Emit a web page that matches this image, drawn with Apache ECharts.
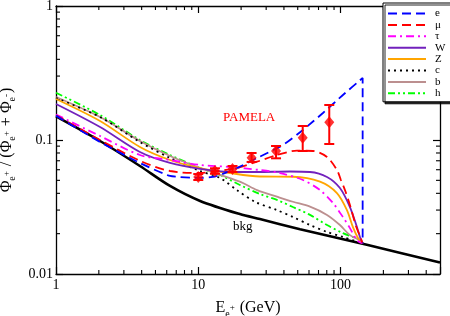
<!DOCTYPE html>
<html>
<head>
<meta charset="utf-8">
<script src="https://cdn.jsdelivr.net/npm/echarts@6/dist/echarts.min.js"></script>
<style>html,body{margin:0;padding:0;background:#fff;}#c{width:450px;height:316px;}</style>
</head>
<body>
<div id="c"></div>
<script>
// ---- data ----
const energyBkg = [1, 2.04, 3.89, 6.33, 10.3, 19.6, 27.1, 51.9, 153, 500];
const fracBkg   = [0.150, 0.0983, 0.064, 0.0454, 0.0351, 0.0280, 0.0257, 0.0216, 0.0165, 0.0122];

const energyE = [1, 2.04, 3.89, 6.33, 10.3, 13.1, 17.5, 25.9, 39.4, 54.4, 75.2, 103.9, 143, 143];
const fracE   = [0.152, 0.0966, 0.0674, 0.0539, 0.0521, 0.0534, 0.0597, 0.0734, 0.0918, 0.1188, 0.159, 0.2167, 0.2902, 0.0169];

const energyMu = [1, 2.04, 3.89, 6.33, 10.3, 13.1, 18.7, 25.9, 35.7, 49.4, 64, 80.3, 94.3, 100.6, 107.4, 116.4, 128.3, 136.9, 143];
const fracMu   = [0.153, 0.100, 0.070, 0.0587, 0.0567, 0.0582, 0.0618, 0.0689, 0.0773, 0.0832, 0.0828, 0.0747, 0.0597, 0.0503, 0.0423, 0.0327, 0.0228, 0.0192, 0.0169];

const energyTau = [1, 2.04, 3.89, 6.33, 10.3, 16.7, 27.1, 37.5, 54.4, 71.7, 88.4, 103.9, 116.4, 130.4, 143];
const fracTau   = [0.155, 0.1071, 0.0773, 0.0709, 0.0651, 0.0629, 0.0597, 0.0567, 0.0503, 0.0423, 0.0339, 0.0266, 0.0220, 0.0179, 0.0169];

const energyW = [1, 2.04, 3.89, 6.33, 10.3, 16.7, 25.9, 44.1, 61, 80.3, 99, 116.4, 130.4, 136.9, 143];
const fracW   = [0.1857, 0.125, 0.0814, 0.0674, 0.0608, 0.0577, 0.0577, 0.0582, 0.0577, 0.053, 0.0438, 0.0316, 0.0224, 0.0189, 0.0169];

const energyZ = [1, 2.04, 3.89, 6.33, 10.3, 16.7, 27.1, 46.3, 71.7, 94.3, 110.9, 122.2, 132.6, 143];
const fracZ   = [0.2023, 0.1386, 0.0887, 0.0709, 0.0618, 0.0567, 0.0534, 0.0532, 0.0489, 0.0402, 0.0300, 0.0224, 0.0186, 0.0169];

const energyC = [1, 2.04, 3.89, 6.33, 10.3, 14.2, 18.7, 25.0, 35.7, 46.3, 61, 80.3, 103.9, 143];
const fracC   = [0.2058, 0.1484, 0.0966, 0.0734, 0.0587, 0.0521, 0.0423, 0.0346, 0.0300, 0.0266, 0.0232, 0.0206, 0.0189, 0.0169];

const energyB = [1, 2.04, 3.89, 6.33, 10.3, 19.6, 25.9, 35.7, 46.3, 61, 80.3, 99, 116.4, 136.9, 143];
const fracB   = [0.2094, 0.1484, 0.0983, 0.0760, 0.0618, 0.0489, 0.0423, 0.0378, 0.0346, 0.0318, 0.0276, 0.0232, 0.0195, 0.0179, 0.0169];

const energyH = [1, 2.04, 3.89, 6.33, 10.3, 14.2, 19.6, 27.1, 35.7, 46.3, 61, 80.3, 103.9, 136.9, 143];
const fracH   = [0.2254, 0.1536, 0.1, 0.0773, 0.0618, 0.0548, 0.0462, 0.0395, 0.0357, 0.0316, 0.0276, 0.0232, 0.0202, 0.0179, 0.0169];

const pamelaE   = [10.0, 13.1, 17.4, 23.7, 35.2, 54.2, 83.3];
const pamelaF   = [0.053, 0.0587, 0.0608, 0.0738, 0.0828, 0.104, 0.1356];
const pamelaLo  = [0.0503, 0.0560, 0.0577, 0.0686, 0.073, 0.0828, 0.0934];
const pamelaHi  = [0.0557, 0.0615, 0.064, 0.080, 0.0902, 0.1272, 0.1825];

const xMinorTicks = [2,3,4,5,6,7,8,9,20,30,40,50,60,70,80,90,200,300,400];
const yMinorTicks = [0.02,0.03,0.04,0.05,0.06,0.07,0.08,0.09,0.2,0.3,0.4,0.5,0.6,0.7,0.8,0.9];
const legendNames = ['e','μ','τ','W','Z','c','b','h'];

// ---- helpers ----
const zip = (a, b) => a.map((v, i) => [v, b[i]]);
const SERIF = '"Liberation Serif", "DejaVu Serif", serif';

function lineSeries(name, ex, fy, color, type, width) {
  return {
    name: name, type: 'line', data: zip(ex, fy), symbol: 'none', smooth: 0.3,
    lineStyle: { color: color, width: width || 1.8, type: type || 'solid' },
    itemStyle: { color: color }, z: 3, animation: false
  };
}

const chart = echarts.init(document.getElementById('c'), null, { renderer: 'canvas' });

const axisCommon = {
  type: 'log', logBase: 10,
  axisLine: { show: true, lineStyle: { color: '#000', width: 1.3 } },
  axisTick: { show: true, inside: true, length: 7, lineStyle: { color: '#000', width: 1.2 } },
  splitLine: { show: false }
};
const richName = {
  a: { fontFamily: SERIF, fontSize: 16, color: '#000', verticalAlign: 'middle' },
  sub: { fontFamily: SERIF, fontSize: 10, color: '#000', padding: [12, 0, 0, 0], verticalAlign: 'middle' },
  sup: { fontFamily: SERIF, fontSize: 9, color: '#000', padding: [0, 1, 0, 0], verticalAlign: 'middle' }
};

const option = {
  backgroundColor: '#fff',
  animation: false,
  grid: { left: 56, right: 10, top: 6, bottom: 42, containLabel: false, outerBoundsMode: 'none' },
  xAxis: [
    Object.assign({}, axisCommon, {
      min: 1, max: 500, position: 'bottom',
      axisLabel: { color: '#000', fontFamily: SERIF, fontSize: 14, margin: 4,
        formatter: v => ([1,10,100].indexOf(Math.round(v)) >= 0 ? String(Math.round(v)) : '') },
      name: '{a|E}{sub|e}{sup|+}{a| (GeV)}', nameLocation: 'middle', nameGap: 23,
      nameTextStyle: { color: '#000', fontFamily: SERIF, fontSize: 16, rich: richName }
    }),
    Object.assign({}, axisCommon, { min: 1, max: 500, position: 'top', axisLabel: { show: false } })
  ],
  yAxis: [
    Object.assign({}, axisCommon, {
      min: 0.01, max: 1, position: 'left',
      axisLabel: { color: '#000', fontFamily: SERIF, fontSize: 14, margin: 3,
        formatter: v => { if (Math.abs(v - 0.01) < 1e-6) return '0.01'; if (Math.abs(v - 0.1) < 1e-6) return '0.1'; if (Math.abs(v - 1) < 1e-6) return '1'; return ''; } },
      name: '{a|Φ}{sub|e}{sup|+}{a| / (Φ}{sub|e}{sup|+}{a| + Φ}{sub|e}{sup|-}{a|)}',
      nameLocation: 'middle', nameRotate: 90, nameGap: 32,
      nameTextStyle: { color: '#000', fontFamily: SERIF, fontSize: 16, rich: richName }
    }),
    Object.assign({}, axisCommon, { min: 0.01, max: 1, position: 'right', axisLabel: { show: false } })
  ],
  legend: {
    data: legendNames, orient: 'vertical', left: 383, top: 3,
    itemWidth: 38, itemHeight: 10, itemGap: 0.4,
    padding: [5, 8, 3, 4],
    itemStyle: { opacity: 0 },
    backgroundColor: '#fff', borderColor: '#000', borderWidth: 1, borderRadius: 0,
    shadowColor: 'rgba(0,0,0,0.85)', shadowOffsetX: 2, shadowOffsetY: 2, shadowBlur: 0,
    selectedMode: false,
    textStyle: { color: '#000', fontFamily: SERIF, fontSize: 11, lineHeight: 10, padding: [0, 0, 0, 4] }
  },
  graphic: [
    { type: 'text', left: 223, top: 111, style: { text: 'PAMELA', fill: '#ff0000', font: '13px ' + SERIF } },
    { type: 'text', left: 233, top: 220, style: { text: 'bkg', fill: '#000', font: '13px ' + SERIF } }
  ],
  series: [
    { name: 'bkg', type: 'line', data: zip(energyBkg, fracBkg), symbol: 'none', smooth: 0.3,
      lineStyle: { color: '#000', width: 2.6 }, z: 2 },
    lineSeries('h', energyH, fracH, '#00ff00', [7, 3, 2, 3, 2, 3], 1.8),
    lineSeries('b', energyB, fracB, '#bc8f8f', 'solid', 1.8),
    lineSeries('c', energyC, fracC, '#000000', [2, 4], 1.8),
    lineSeries('Z', energyZ, fracZ, '#ffa500', 'solid', 1.8),
    lineSeries('W', energyW, fracW, '#7221bc', 'solid', 1.8),
    lineSeries('τ', energyTau, fracTau, '#ff00ff', [8, 4, 2, 4], 1.8),
    lineSeries('μ', energyMu, fracMu, '#ff0000', [9, 5], 1.8),
    Object.assign(lineSeries('e', energyE, fracE, '#0000ff', [9, 5], 1.8), { smooth: 0.15 }),
    {
      name: 'PAMELA err', type: 'custom', z: 5,
      data: pamelaE.map((e, i) => [e, pamelaF[i], pamelaLo[i], pamelaHi[i]]),
      renderItem: function (params, api) {
        const x = api.value(0);
        const pLo = api.coord([x, api.value(2)]);
        const pHi = api.coord([x, api.value(3)]);
        const cw = 5;
        const st = { stroke: '#ff0000', lineWidth: 2 };
        return { type: 'group', children: [
          { type: 'line', shape: { x1: pLo[0], y1: pLo[1], x2: pHi[0], y2: pHi[1] }, style: st },
          { type: 'line', shape: { x1: pLo[0] - cw, y1: pLo[1], x2: pLo[0] + cw, y2: pLo[1] }, style: st },
          { type: 'line', shape: { x1: pHi[0] - cw, y1: pHi[1], x2: pHi[0] + cw, y2: pHi[1] }, style: st }
        ] };
      }
    },
    { name: 'PAMELA', type: 'scatter', z: 6, data: zip(pamelaE, pamelaF), symbol: 'diamond',
      symbolSize: [10, 12], itemStyle: { color: '#ff0000' } },
    {
      name: 'xminor', type: 'custom', silent: true, z: 1,
      data: xMinorTicks.map(v => [v, 0.1]),
      renderItem: function (params, api) {
        const px = api.coord([api.value(0), 0.01])[0];
        const bottom = api.coord([1, 0.01])[1];
        const top = api.coord([1, 1])[1];
        const st = { stroke: '#000', lineWidth: 1.1 };
        return { type: 'group', children: [
          { type: 'line', shape: { x1: px, y1: bottom, x2: px, y2: bottom - 4 }, style: st },
          { type: 'line', shape: { x1: px, y1: top, x2: px, y2: top + 4 }, style: st }
        ] };
      }
    },
    {
      name: 'yminor', type: 'custom', silent: true, z: 1,
      data: yMinorTicks.map(v => [2, v]),
      renderItem: function (params, api) {
        const py = api.coord([1, api.value(1)])[1];
        const left = api.coord([1, 0.01])[0];
        const right = api.coord([500, 0.01])[0];
        const st = { stroke: '#000', lineWidth: 1.1 };
        return { type: 'group', children: [
          { type: 'line', shape: { x1: left, y1: py, x2: left + 4, y2: py }, style: st },
          { type: 'line', shape: { x1: right, y1: py, x2: right - 4, y2: py }, style: st }
        ] };
      }
    }
  ]
};
chart.setOption(option);
</script>
</body>
</html>
